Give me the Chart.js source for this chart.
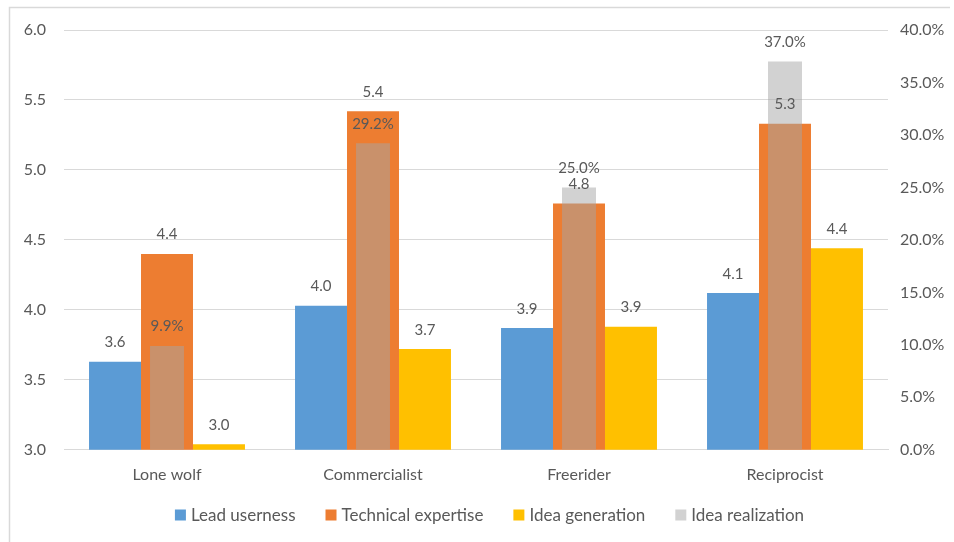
<!DOCTYPE html>
<html>
<head>
<meta charset="utf-8">
<script src="https://cdn.jsdelivr.net/npm/chart.js@4/dist/chart.umd.min.js"></script>
<style>
html,body{margin:0;padding:0;background:#fff;}
#wrap{width:954px;height:542px;position:relative;}
</style>
</head>
<body>
<div id="wrap"><canvas id="c" width="954" height="542"></canvas></div>
<script>
const categories = ["Lone wolf", "Commercialist", "Freerider", "Reciprocist"];
const leadUserness = [3.63, 4.03, 3.87, 4.12];
const technicalExpertise = [4.40, 5.42, 4.76, 5.33];
const ideaGeneration = [3.04, 3.72, 3.88, 4.44];
const ideaRealization = [9.9, 29.2, 25.0, 37.0];
const leftTicks = [3.0, 3.5, 4.0, 4.5, 5.0, 5.5, 6.0];
const rightTicks = [0, 5, 10, 15, 20, 25, 30, 35, 40];

const FONT = "Lato";
const TEXT = "#595959";

const labelPlugin = {
  id: 'valLabels',
  afterDatasetsDraw(chart) {
    const ctx = chart.ctx;
    ctx.save();
    ctx.font = "15px " + FONT;
    ctx.fillStyle = TEXT;
    ctx.textAlign = 'center';
    ctx.textBaseline = 'alphabetic';
    chart.data.datasets.forEach((ds, i) => {
      const meta = chart.getDatasetMeta(i);
      meta.data.forEach((el, j) => {
        const v = ds.data[j];
        const txt = ds.isPct ? v.toFixed(1) + '%' : v.toFixed(1);
        ctx.fillText(txt, el.x, el.y - 14.5);
      });
    });
    ctx.restore();
  }
};

const frameLegendPlugin = {
  id: 'frameLegend',
  beforeDraw(chart) {
    const ctx = chart.ctx;
    ctx.save();
    ctx.fillStyle = '#fff';
    ctx.fillRect(0, 0, chart.width, chart.height);
    ctx.strokeStyle = '#d9d9d9';
    ctx.lineWidth = 1.5;
    ctx.beginPath();
    ctx.moveTo(9.5, chart.height);
    ctx.lineTo(9.5, 7.5);
    ctx.lineTo(950, 7.5);
    ctx.stroke();
    ctx.restore();
  },
  afterDraw(chart) {
    const ctx = chart.ctx;
    ctx.save();
    ctx.font = "17px " + FONT;
    ctx.textBaseline = 'middle';
    ctx.textAlign = 'left';
    const box = 11, gapText = 5, gapItem = 30;
    const items = chart.data.datasets.map(ds => ({
      label: ds.label, color: ds.backgroundColor, w: ctx.measureText(ds.label).width
    }));
    let total = 0;
    items.forEach((it, i) => { total += box + gapText + it.w + (i < items.length - 1 ? gapItem : 0); });
    const centerX = 489.5;
    const cy = 515;
    let x = centerX - total / 2;
    items.forEach(it => {
      ctx.fillStyle = it.color;
      ctx.fillRect(x, cy - box / 2, box, box);
      x += box + gapText;
      ctx.fillStyle = TEXT;
      ctx.fillText(it.label, x, cy + 1);
      x += it.w + gapItem;
    });
    ctx.restore();
  }
};

new Chart(document.getElementById('c'), {
  type: 'bar',
  data: {
    labels: categories,
    datasets: [
      { label: 'Lead userness', data: leadUserness, backgroundColor: '#5B9BD5', yAxisID: 'y', order: 1, categoryPercentage: 0.757, barPercentage: 1.0, borderWidth: 0 },
      { label: 'Technical expertise', data: technicalExpertise, backgroundColor: '#ED7D31', yAxisID: 'y', order: 1, categoryPercentage: 0.757, barPercentage: 1.0, borderWidth: 0 },
      { label: 'Idea generation', data: ideaGeneration, backgroundColor: '#FFC000', yAxisID: 'y', order: 1, categoryPercentage: 0.757, barPercentage: 1.0, borderWidth: 0 },
      { label: 'Idea realization', data: ideaRealization, isPct: true, backgroundColor: 'rgba(165,165,165,0.5)', yAxisID: 'y1', order: -1, grouped: false, categoryPercentage: 0.165, barPercentage: 1.0, borderWidth: 0 }
    ]
  },
  options: {
    responsive: false,
    animation: false,
    devicePixelRatio: 1,
    layout: { padding: { top: 30, left: 10, right: 0, bottom: 43 } },
    plugins: {
      tooltip: { enabled: false },
      legend: { display: false }
    },
    scales: {
      x: {
        type: 'category',
        offset: true,
        grid: { display: false, drawTicks: false },
        border: { display: true, color: '#d9d9d9', width: 1 },
        ticks: { font: { family: FONT, size: 16 }, color: TEXT, padding: 15 }
      },
      y: {
        position: 'left',
        min: 3.0,
        max: 6.0,
        afterBuildTicks: (axis) => { axis.ticks = leftTicks.map(v => ({ value: v })); },
        afterFit: (axis) => { axis.width = 54; },
        grid: { color: '#d9d9d9', drawTicks: false },
        border: { display: false },
        ticks: { font: { family: FONT, size: 16 }, color: TEXT, padding: 18, callback: (v) => Number(v).toFixed(1) }
      },
      y1: {
        position: 'right',
        min: 0,
        max: 40,
        afterBuildTicks: (axis) => { axis.ticks = rightTicks.map(v => ({ value: v })); },
        afterFit: (axis) => { axis.width = 66; },
        grid: { display: false, drawTicks: false },
        border: { display: false },
        ticks: { font: { family: FONT, size: 16 }, color: TEXT, padding: 12, callback: (v) => Number(v).toFixed(1) + '%' }
      }
    }
  },
  plugins: [frameLegendPlugin, labelPlugin]
});
</script>
</body>
</html>
